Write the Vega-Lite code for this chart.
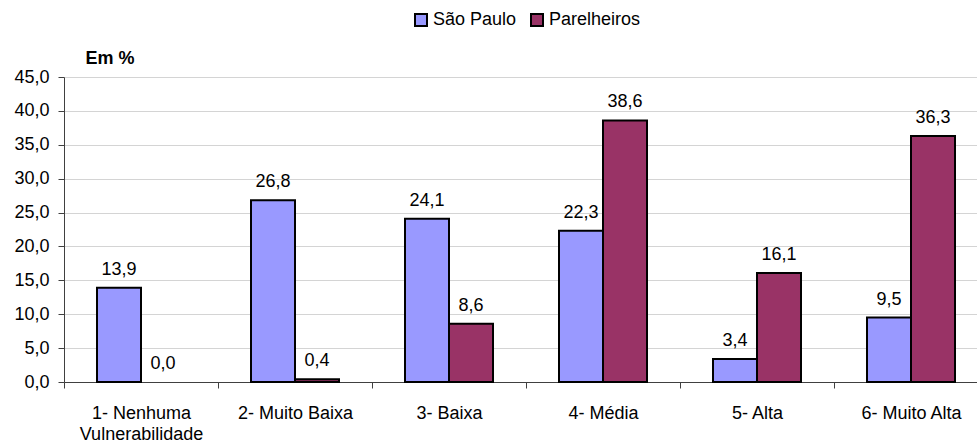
{
  "$schema": "https://vega.github.io/schema/vega-lite/v6.json",
  "autosize": "none",
  "width": 913,
  "height": 305,
  "padding": {"left": 64, "top": 77, "right": 0, "bottom": 61},
  "background": "white",
  "config": {
    "font": "Liberation Sans",
    "view": {"stroke": null},
    "locale": {"number": {"decimal": ",", "thousands": ".", "grouping": [3], "currency": ["", ""]}}
  },
  "data": {
    "values": [
      {"categoria": "1- Nenhuma Vulnerabilidade", "serie": "São Paulo", "valor": 13.9},
      {"categoria": "1- Nenhuma Vulnerabilidade", "serie": "Parelheiros", "valor": 0.0},
      {"categoria": "2- Muito Baixa", "serie": "São Paulo", "valor": 26.8},
      {"categoria": "2- Muito Baixa", "serie": "Parelheiros", "valor": 0.4},
      {"categoria": "3- Baixa", "serie": "São Paulo", "valor": 24.1},
      {"categoria": "3- Baixa", "serie": "Parelheiros", "valor": 8.6},
      {"categoria": "4- Média", "serie": "São Paulo", "valor": 22.3},
      {"categoria": "4- Média", "serie": "Parelheiros", "valor": 38.6},
      {"categoria": "5- Alta", "serie": "São Paulo", "valor": 3.4},
      {"categoria": "5- Alta", "serie": "Parelheiros", "valor": 16.1},
      {"categoria": "6- Muito Alta", "serie": "São Paulo", "valor": 9.5},
      {"categoria": "6- Muito Alta", "serie": "Parelheiros", "valor": 36.3}
    ]
  },
  "encoding": {
    "x": {
      "field": "categoria",
      "type": "nominal",
      "sort": null,
      "scale": {"range": [0, 924], "paddingInner": 0, "paddingOuter": 0},
      "axis": {
        "title": null,
        "labelAngle": 0,
        "labelFontSize": 18,
        "labelColor": "black",
        "labelPadding": 16,
        "labelLineHeight": 21,
        "labelBaseline": "top",
        "tickBand": "extent",
        "tickSize": 6,
        "tickColor": "#404040",
        "domainColor": "#404040",
        "domainWidth": 1,
        "labelExpr": "datum.value == '1- Nenhuma Vulnerabilidade' ? ['1- Nenhuma', 'Vulnerabilidade'] : datum.value"
      }
    },
    "xOffset": {
      "field": "serie",
      "type": "nominal",
      "sort": ["São Paulo", "Parelheiros"],
      "scale": {"paddingInner": 0, "paddingOuter": 0.75}
    },
    "y": {
      "field": "valor",
      "type": "quantitative",
      "scale": {"domain": [0, 45], "nice": false},
      "axis": {
        "values": [0, 5, 10, 15, 20, 25, 30, 35, 40, 45],
        "format": ".1f",
        "labelFontSize": 18,
        "labelColor": "black",
        "labelPadding": 9,
        "tickSize": 6,
        "tickColor": "#404040",
        "domainColor": "#404040",
        "gridColor": "#d4d4d4",
        "title": "Em %",
        "titleAngle": 0,
        "titleFontSize": 18,
        "titleFontWeight": "bold",
        "titleColor": "black",
        "titleAlign": "left",
        "titleBaseline": "alphabetic",
        "titleX": 21,
        "titleY": -14
      }
    }
  },
  "layer": [
    {
      "mark": {"type": "bar", "stroke": "black", "strokeWidth": 2},
      "encoding": {
        "strokeOpacity": {"condition": {"test": "datum.valor == 0", "value": 0}, "value": 1},
        "color": {
          "field": "serie",
          "type": "nominal",
          "sort": ["São Paulo", "Parelheiros"],
          "scale": {"domain": ["São Paulo", "Parelheiros"], "range": ["#9999FF", "#993366"]},
          "legend": {
            "title": null,
            "orient": "none",
            "direction": "horizontal",
            "legendX": 348,
            "legendY": -66,
            "symbolType": "square",
            "symbolSize": 144,
            "symbolStrokeColor": "black",
            "symbolStrokeWidth": 2,
            "labelFontSize": 18,
            "labelColor": "black",
            "labelOffset": 3,
            "columnPadding": 10
          }
        }
      }
    },
    {
      "mark": {"type": "text", "baseline": "alphabetic", "dy": -13, "fontSize": 18, "color": "black"},
      "encoding": {
        "text": {"field": "valor", "type": "quantitative", "format": ".1f"}
      }
    }
  ]
}
